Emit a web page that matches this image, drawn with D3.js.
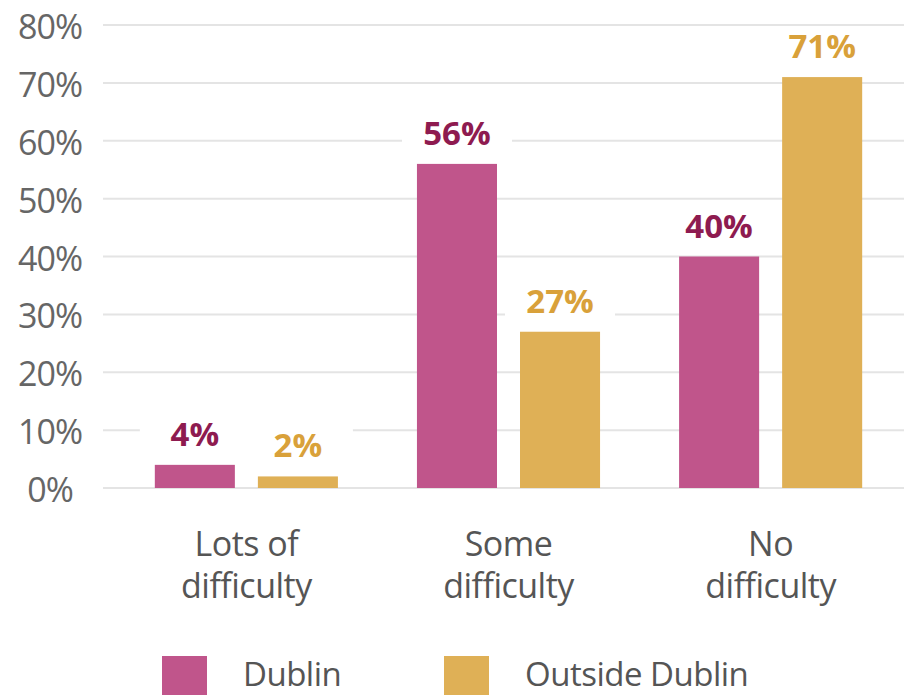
<!DOCTYPE html>
<html>
<head>
<meta charset="utf-8">
<script src="https://cdn.jsdelivr.net/npm/d3@7"></script>
<style>
  body { margin: 0; background: #fff; }
  svg { display: block; font-family: "Open Sans", sans-serif; }
</style>
</head>
<body>
<div id="chart"></div>
<script>
// categories and series
var categories = ["Lots of difficulty", "Some difficulty", "No difficulty"];
var categoryLines = [["Lots of", "difficulty"], ["Some", "difficulty"], ["No", "difficulty"]];
var series = ["Dublin", "Outside Dublin"];
var dublin = [0.04, 0.56, 0.40];
var outside = [0.02, 0.27, 0.71];
var tickValues = [0, 0.1, 0.2, 0.3, 0.4, 0.5, 0.6, 0.7, 0.8];

var barColors = ["#c0558b", "#dfb056"];
var labelColors = ["#8e1b50", "#d9a13a"];

var width = 904, height = 695;

var svg = d3.select("#chart")
  .append("svg")
  .attr("width", width)
  .attr("height", height);

var y = d3.scaleLinear()
  .domain([0, 0.8])
  .range([488, 25]);

var x0 = d3.scaleBand()
  .domain(categories)
  .range([115.5, 901.5])
  .paddingInner(0.3015)
  .paddingOuter(0.15);

var x1 = d3.scaleBand()
  .domain(series)
  .range([0, x0.bandwidth()])
  .paddingInner(23 / 103);

var fmt = d3.format(".0%");

// gridlines
svg.selectAll(".grid")
  .data(tickValues)
  .enter()
  .append("line")
  .attr("class", "grid")
  .attr("x1", 103)
  .attr("x2", width)
  .attr("y1", function(d) { return y(d); })
  .attr("y2", function(d) { return y(d); })
  .attr("stroke", "#e4e4e4")
  .attr("stroke-width", 2);

// tick labels
svg.selectAll(".tick-label")
  .data(tickValues)
  .enter()
  .append("text")
  .attr("class", "tick-label")
  .attr("x", 50)
  .attr("y", function(d) { return y(d) + 14; })
  .attr("text-anchor", "middle")
  .attr("fill", "#666")
  .attr("font-size", 34)
  .style("letter-spacing", "-1px")
  .text(function(d) { return fmt(d); });

// data rows
var rows = categories.map(function(c, i) {
  return { cat: c, values: [
    { s: series[0], v: dublin[i], k: 0 },
    { s: series[1], v: outside[i], k: 1 }
  ]};
});

var groups = svg.selectAll(".group")
  .data(rows)
  .enter()
  .append("g")
  .attr("class", "group")
  .attr("transform", function(d) { return "translate(" + x0(d.cat) + ",0)"; });

// white boxes behind value labels
groups.selectAll(".label-bg")
  .data(function(d) { return d.values; })
  .enter()
  .append("rect")
  .attr("class", "label-bg")
  .attr("x", function(d) { return x1(d.s) + x1.bandwidth() / 2 - 55; })
  .attr("y", function(d) { return y(d.v) - 50; })
  .attr("width", 110)
  .attr("height", 46)
  .attr("fill", "#fff");

groups.selectAll(".bar")
  .data(function(d) { return d.values; })
  .enter()
  .append("rect")
  .attr("class", "bar")
  .attr("x", function(d) { return x1(d.s); })
  .attr("y", function(d) { return y(d.v); })
  .attr("width", x1.bandwidth())
  .attr("height", function(d) { return y(0) - y(d.v); })
  .attr("fill", function(d) { return barColors[d.k]; });

groups.selectAll(".value-label")
  .data(function(d) { return d.values; })
  .enter()
  .append("text")
  .attr("class", "value-label")
  .attr("x", function(d) { return x1(d.s) + x1.bandwidth() / 2; })
  .attr("y", function(d) { return y(d.v) - 19; })
  .attr("text-anchor", "middle")
  .attr("font-size", 33)
  .attr("font-weight", "bold")
  .attr("fill", function(d) { return labelColors[d.k]; })
  .text(function(d) { return fmt(d.v); });

// category labels
groups.append("text")
  .attr("class", "cat-label")
  .attr("text-anchor", "middle")
  .attr("fill", "#555")
  .attr("font-size", 34)
  .style("letter-spacing", "-0.5px")
  .selectAll("tspan")
  .data(function(d, i) { return categoryLines[i]; })
  .enter()
  .append("tspan")
  .attr("x", x0.bandwidth() / 2)
  .attr("y", function(d, i) { return 556 + i * 42; })
  .text(function(d) { return d; });

// legend
var legendX = [162, 444];
var legend = svg.selectAll(".legend")
  .data(series)
  .enter()
  .append("g")
  .attr("class", "legend")
  .attr("transform", function(d, i) { return "translate(" + legendX[i] + ",656)"; });

legend.append("rect")
  .attr("width", 45)
  .attr("height", 45)
  .attr("fill", function(d, i) { return barColors[i]; });

legend.append("text")
  .attr("x", 81)
  .attr("y", 30)
  .attr("font-size", 33)
  .attr("fill", "#555")
  .style("letter-spacing", "-0.5px")
  .text(function(d) { return d; });
</script>
</body>
</html>
